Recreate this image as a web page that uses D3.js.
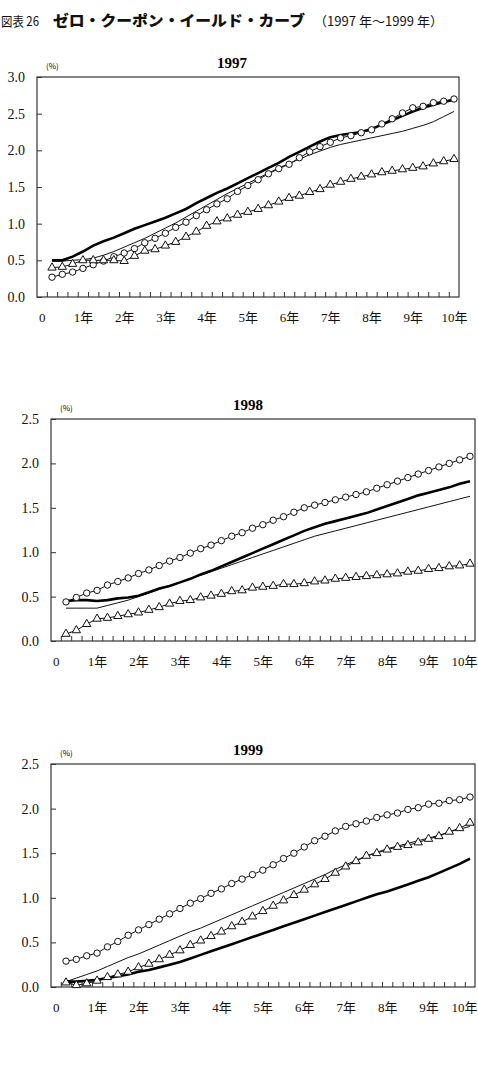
<!DOCTYPE html>
<html>
<head>
<meta charset="utf-8">
<script src="https://cdn.jsdelivr.net/npm/d3@7"></script>
<style>
  body { margin: 0; background: #fff; }
  svg { display: block; }
</style>
</head>
<body>
<svg id="chart" width="478" height="1073"></svg>
<script>
// maturities (years), quarterly
var maturities = [0.25,0.5,0.75,1,1.25,1.5,1.75,2,2.25,2.5,2.75,3,3.25,3.5,3.75,4,4.25,4.5,4.75,5,
                  5.25,5.5,5.75,6,6.25,6.5,6.75,7,7.25,7.5,7.75,8,8.25,8.5,8.75,9,9.25,9.5,9.75,10];
var xLabelYears = [0,1,2,3,4,5,6,7,8,9,10];
var xLabels = ["0","1年","2年","3年","4年","5年","6年","7年","8年","9年","10年"];
var yTicks1997 = [0,0.5,1,1.5,2,2.5,3];
var yTicks1998 = [0,0.5,1,1.5,2,2.5];
var yTicks1999 = [0,0.5,1,1.5,2,2.5];

// 1997
var thick1997 = [0.50,0.50,0.55,0.62,0.70,0.76,0.81,0.87,0.93,0.98,1.03,1.08,1.14,1.20,1.28,1.35,1.42,1.48,1.55,1.62,
                 1.69,1.76,1.83,1.91,1.98,2.05,2.12,2.18,2.21,2.23,2.25,2.29,2.35,2.41,2.47,2.53,2.58,2.62,2.66,2.69];
var thin1997  = [0.49,0.49,0.50,0.51,0.53,0.57,0.62,0.68,0.74,0.80,0.87,0.94,1.01,1.09,1.17,1.25,1.33,1.41,1.48,1.55,
                 1.62,1.69,1.76,1.82,1.88,1.94,1.99,2.04,2.08,2.11,2.14,2.17,2.20,2.23,2.26,2.30,2.34,2.39,2.46,2.53];
var circ1997  = [0.27,0.31,0.34,0.39,0.44,0.49,0.55,0.60,0.66,0.74,0.80,0.87,0.95,1.02,1.11,1.19,1.27,1.34,1.44,1.52,
                 1.60,1.68,1.75,1.81,1.90,1.98,2.05,2.11,2.17,2.20,2.24,2.28,2.36,2.43,2.51,2.58,2.60,2.65,2.67,2.70];
var tri1997   = [0.40,0.41,0.45,0.50,0.50,0.50,0.50,0.49,0.56,0.63,0.65,0.70,0.75,0.82,0.89,0.97,1.03,1.07,1.12,1.16,
                 1.20,1.25,1.30,1.35,1.38,1.43,1.47,1.53,1.57,1.61,1.64,1.67,1.70,1.72,1.74,1.76,1.78,1.82,1.85,1.88];

// 1998
var thick1998 = [0.45,0.46,0.46,0.45,0.46,0.48,0.49,0.51,0.55,0.59,0.62,0.66,0.70,0.75,0.79,0.84,0.89,0.94,0.99,1.04,
                 1.09,1.14,1.19,1.24,1.28,1.32,1.35,1.38,1.41,1.44,1.48,1.52,1.56,1.60,1.64,1.67,1.70,1.73,1.77,1.80];
var thin1998  = [0.37,0.37,0.37,0.37,0.40,0.43,0.46,0.50,0.54,0.58,0.62,0.66,0.70,0.74,0.78,0.82,0.86,0.90,0.94,0.98,
                 1.02,1.06,1.10,1.14,1.18,1.21,1.24,1.27,1.30,1.33,1.36,1.39,1.42,1.45,1.48,1.51,1.54,1.57,1.60,1.63];
var circ1998  = [0.44,0.49,0.54,0.57,0.63,0.67,0.71,0.76,0.80,0.85,0.90,0.94,0.99,1.04,1.08,1.13,1.18,1.22,1.27,1.31,
                 1.36,1.40,1.45,1.50,1.53,1.56,1.59,1.62,1.65,1.68,1.72,1.76,1.80,1.84,1.88,1.92,1.96,2.00,2.04,2.08];
var tri1998   = [0.08,0.12,0.19,0.25,0.26,0.28,0.30,0.32,0.35,0.38,0.42,0.45,0.46,0.49,0.51,0.53,0.56,0.57,0.60,0.61,
                 0.62,0.64,0.64,0.65,0.67,0.68,0.70,0.71,0.72,0.73,0.74,0.75,0.76,0.78,0.79,0.81,0.82,0.84,0.85,0.87];

// 1999
var thick1999 = [0.06,0.06,0.07,0.08,0.10,0.12,0.14,0.17,0.19,0.22,0.25,0.28,0.32,0.36,0.40,0.44,0.48,0.52,0.56,0.60,
                 0.64,0.68,0.72,0.76,0.80,0.84,0.88,0.92,0.96,1.00,1.04,1.07,1.11,1.15,1.19,1.23,1.28,1.33,1.38,1.44];
var thin1999  = [0.06,0.10,0.14,0.18,0.23,0.28,0.33,0.37,0.42,0.47,0.52,0.57,0.62,0.66,0.71,0.76,0.81,0.86,0.91,0.96,
                 1.01,1.06,1.11,1.16,1.21,1.26,1.32,1.37,1.42,1.47,1.51,1.55,1.58,1.61,1.64,1.67,1.70,1.74,1.77,1.80];
var circ1999  = [0.29,0.31,0.35,0.38,0.45,0.51,0.58,0.64,0.70,0.76,0.82,0.88,0.94,0.99,1.05,1.10,1.16,1.21,1.26,1.31,
                 1.37,1.44,1.50,1.57,1.64,1.69,1.75,1.80,1.83,1.86,1.90,1.93,1.95,1.99,2.01,2.05,2.06,2.09,2.10,2.13];
var tri1999   = [0.05,0.02,0.04,0.07,0.11,0.14,0.17,0.22,0.26,0.31,0.36,0.41,0.47,0.52,0.57,0.62,0.68,0.73,0.79,0.85,
                 0.91,0.97,1.03,1.09,1.15,1.21,1.28,1.35,1.41,1.47,1.50,1.54,1.57,1.59,1.62,1.66,1.69,1.74,1.78,1.84];

var svg = d3.select("#chart");

// main title
var title = svg.append("text")
    .attr("y", 26)
    .style("font-family", "'Noto Sans CJK JP', sans-serif")
    .style("fill", "#111");
title.append("tspan").attr("x", 1).style("font-size", "13px")
    .attr("textLength", 38).attr("lengthAdjust", "spacingAndGlyphs")
    .text("図表 26");
title.append("tspan").attr("x", 53).style("font-size", "15px").style("font-weight", "900")
    .attr("textLength", 252).attr("lengthAdjust", "spacingAndGlyphs")
    .text("ゼロ・クーポン・イールド・カーブ");
title.append("tspan").attr("x", 314).style("font-size", "13px")
    .attr("textLength", 129).attr("lengthAdjust", "spacingAndGlyphs")
    .text("（1997 年～1999 年）");

var panels = [
  {name: "1997", titleX: 232, x0: 37, x1: 459, y0: 77,  y1: 297, yMax: 3.0, yTicks: yTicks1997,
   thick: thick1997, thin: thin1997, circ: circ1997, tri: tri1997},
  {name: "1998", titleX: 248, x0: 51, x1: 475, y0: 419, y1: 641, yMax: 2.5, yTicks: yTicks1998,
   thick: thick1998, thin: thin1998, circ: circ1998, tri: tri1998},
  {name: "1999", titleX: 248, x0: 51, x1: 475, y0: 764, y1: 987, yMax: 2.5, yTicks: yTicks1999,
   thick: thick1999, thin: thin1999, circ: circ1999, tri: tri1999}
];

var labelFont = "'Liberation Serif', 'Noto Sans CJK JP', serif";

panels.forEach(function(p){
  var x = d3.scaleLinear().domain([0.25, 10]).range([p.x0 + 15, p.x1 - 5]);
  var y = d3.scaleLinear().domain([0, p.yMax]).range([p.y1, p.y0]);
  var g = svg.append("g");

  // panel title
  g.append("text")
    .attr("x", p.titleX).attr("y", p.y0 - 9)
    .attr("text-anchor", "middle")
    .style("font-family", labelFont).style("font-size", "15px").style("font-weight", "bold")
    .text(p.name);

  // unit
  g.append("text")
    .attr("x", p.x0 + 9).attr("y", p.y0 - 8)
    .style("font-family", "'Noto Sans CJK JP', sans-serif").style("font-size", "8px")
    .text("(%)");

  // frame
  g.append("rect")
    .attr("x", p.x0).attr("y", p.y0)
    .attr("width", p.x1 - p.x0).attr("height", p.y1 - p.y0)
    .attr("fill", "none").attr("stroke", "#333").attr("stroke-width", 1.2);

  // y axis
  var yAxis = g.append("g").attr("transform", "translate(" + p.x0 + ",0)")
    .call(d3.axisLeft(y).tickValues(p.yTicks).tickSize(-5).tickPadding(12).tickFormat(d3.format(".1f")));
  yAxis.select(".domain").remove();
  yAxis.selectAll("line").attr("stroke", "#333");
  yAxis.selectAll("text").style("font-family", labelFont).style("font-size", "14px").attr("fill", "#111");

  // x minor ticks between maturities
  var tickTimes = maturities.map(function(m){ return m - 0.125; });
  var xTicks = g.append("g").attr("transform", "translate(0," + p.y1 + ")")
    .call(d3.axisBottom(x).tickValues(tickTimes).tickSize(-5).tickFormat(""));
  xTicks.select(".domain").remove();
  xTicks.selectAll("line").attr("stroke", "#333");

  // x labels
  var xAxis = g.append("g").attr("transform", "translate(0," + p.y1 + ")")
    .call(d3.axisBottom(x).tickValues(xLabelYears).tickSize(0).tickPadding(16)
      .tickFormat(function(d, i){ return xLabels[i]; }));
  xAxis.select(".domain").remove();
  xAxis.selectAll("text").style("font-family", labelFont).style("font-size", "13px").attr("fill", "#111");
  // keep the last label inside the page
  xAxis.selectAll(".tick").filter(function(d){ return d === 10; }).select("text")
    .attr("text-anchor", "end")
    .attr("x", function(){ return Math.min(13, 477 - x(10)); });

  var line = d3.line()
    .x(function(d, i){ return x(maturities[i]); })
    .y(function(d){ return y(d); });

  g.append("path").datum(p.thin).attr("d", line)
    .attr("fill", "none").attr("stroke", "#111").attr("stroke-width", 1);
  g.append("path").datum(p.thick).attr("d", line)
    .attr("fill", "none").attr("stroke", "#000").attr("stroke-width", 2.6);

  g.append("path").datum(p.circ).attr("d", line)
    .attr("fill", "none").attr("stroke", "#111").attr("stroke-width", 1);
  g.selectAll(".circ").data(p.circ).enter().append("circle")
    .attr("class", "circ")
    .attr("cx", function(d, i){ return x(maturities[i]); })
    .attr("cy", function(d){ return y(d); })
    .attr("r", 3.2)
    .attr("fill", "#fff").attr("stroke", "#111").attr("stroke-width", 1);

  g.append("path").datum(p.tri).attr("d", line)
    .attr("fill", "none").attr("stroke", "#111").attr("stroke-width", 1);
  var tri = d3.symbol().type(d3.symbolTriangle).size(30);
  g.selectAll(".tri").data(p.tri).enter().append("path")
    .attr("class", "tri")
    .attr("d", tri)
    .attr("transform", function(d, i){ return "translate(" + x(maturities[i]) + "," + y(d) + ")"; })
    .attr("fill", "#fff").attr("stroke", "#111").attr("stroke-width", 1);
});
</script>
</body>
</html>
